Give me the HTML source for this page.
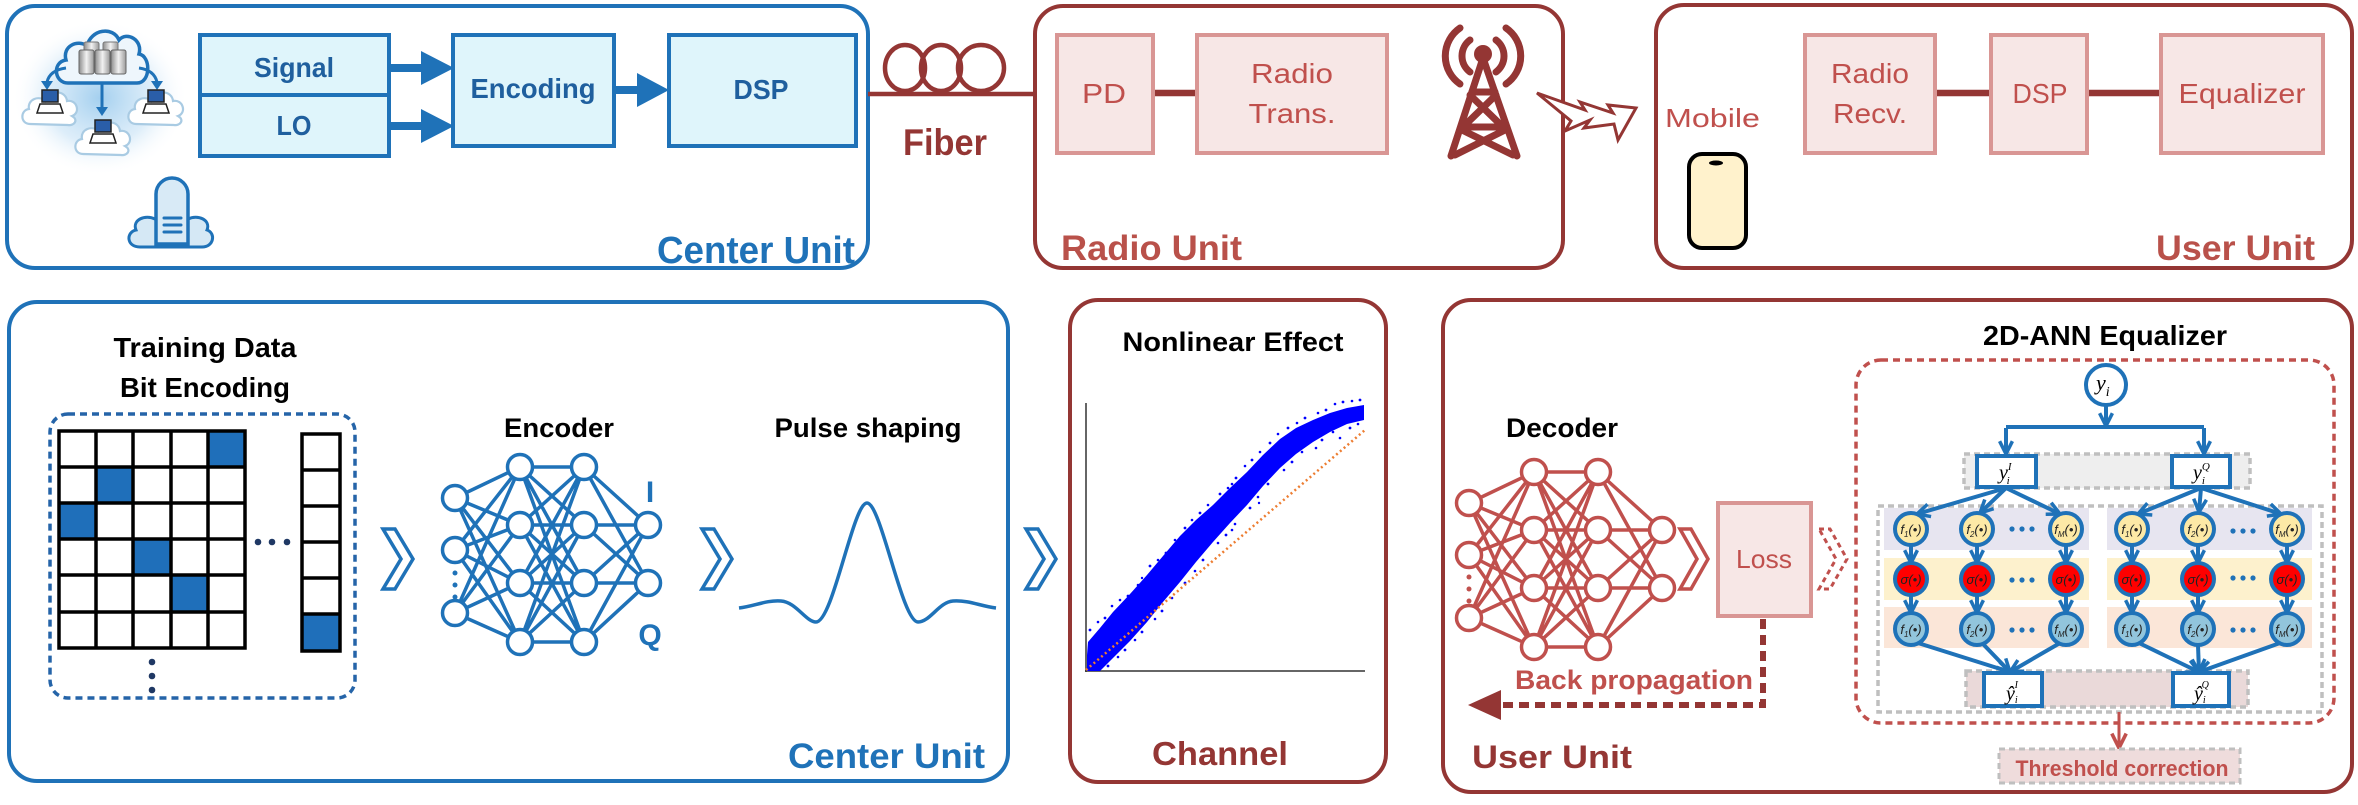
<!DOCTYPE html>
<html><head><meta charset="utf-8"><style>
html,body{margin:0;padding:0;background:#fff;}
svg{display:block;}
text{font-family:"Liberation Sans",Arial,sans-serif;}
.b{font-weight:bold;}
.sf{font-family:"Liberation Serif","Times New Roman",serif;font-style:italic;}
</style></head><body>
<svg width="2358" height="805" viewBox="0 0 2358 805" xmlns="http://www.w3.org/2000/svg">
<defs>
<radialGradient id="glow" cx="50%" cy="50%" r="50%">
<stop offset="0" stop-color="#9fcdee" stop-opacity="0.95"/>
<stop offset="0.6" stop-color="#cfe6f7" stop-opacity="0.7"/>
<stop offset="1" stop-color="#ffffff" stop-opacity="0"/>
</radialGradient>
<linearGradient id="gr" x1="0" y1="0" x2="1" y2="0">
<stop offset="0" stop-color="#8d8d8d"/><stop offset="0.5" stop-color="#f2f2f2"/><stop offset="1" stop-color="#9a9a9a"/>
</linearGradient>
<marker id="vb" viewBox="0 0 10 10" refX="9" refY="5" markerWidth="16" markerHeight="16" markerUnits="userSpaceOnUse" orient="auto">
<path d="M1,1 L9,5 L1,9" fill="none" stroke="#1f72b8" stroke-width="2.2"/></marker>
<marker id="vr" viewBox="0 0 10 10" refX="9" refY="5" markerWidth="18" markerHeight="18" markerUnits="userSpaceOnUse" orient="auto">
<path d="M1,1 L9,5 L1,9" fill="none" stroke="#c0504d" stroke-width="2"/></marker>
<g id="net">
<path fill="none" stroke-width="3.5" d="M455 498L520 467M455 498L520 525M455 498L520 583M455 498L520 642M455 550L520 467M455 550L520 525M455 550L520 583M455 550L520 642M455 613L520 467M455 613L520 525M455 613L520 583M455 613L520 642
M520 467L584 467M520 467L584 525M520 467L584 583M520 467L584 642M520 525L584 467M520 525L584 525M520 525L584 583M520 525L584 642M520 583L584 467M520 583L584 525M520 583L584 583M520 583L584 642M520 642L584 467M520 642L584 525M520 642L584 583M520 642L584 642
M584 467L648 525M584 467L648 583M584 525L648 525M584 525L648 583M584 583L648 525M584 583L648 583M584 642L648 525M584 642L648 583"/>
<g fill="#fff" stroke-width="3.5">
<circle cx="455" cy="498" r="12.5"/><circle cx="455" cy="550" r="12.5"/><circle cx="455" cy="613" r="12.5"/>
<circle cx="520" cy="467" r="12.5"/><circle cx="520" cy="525" r="12.5"/><circle cx="520" cy="583" r="12.5"/><circle cx="520" cy="642" r="12.5"/>
<circle cx="584" cy="467" r="12.5"/><circle cx="584" cy="525" r="12.5"/><circle cx="584" cy="583" r="12.5"/><circle cx="584" cy="642" r="12.5"/>
<circle cx="648" cy="525" r="12.5"/><circle cx="648" cy="583" r="12.5"/>
</g>
</g>
</defs>

<!-- ================= TOP ROW ================= -->
<rect x="7" y="6" width="861" height="262" rx="28" fill="#fff" stroke="#1f72b8" stroke-width="4"/>
<rect x="1035" y="6" width="528" height="262" rx="28" fill="#fff" stroke="#943634" stroke-width="4"/>
<rect x="1656" y="5" width="696" height="263" rx="28" fill="#fff" stroke="#943634" stroke-width="4"/>

<!-- cloud icon -->
<ellipse cx="100" cy="98" rx="88" ry="78" fill="url(#glow)"/>
<path d="M68,83 C54,83 52,62 66,60 C62,46 78,39 87,46 C91,29 113,26 119,40 C127,31 143,40 139,54 C151,56 151,83 137,83 Z" fill="#eef6fc" stroke="#1f72b8" stroke-width="3.5"/>
<rect x="84" y="42" width="15" height="10" rx="2" fill="url(#gr)" stroke="#777" stroke-width="1"/>
<rect x="103" y="42" width="15" height="10" rx="2" fill="url(#gr)" stroke="#777" stroke-width="1"/>
<rect x="79" y="50" width="15" height="24" rx="2" fill="url(#gr)" stroke="#666" stroke-width="1"/>
<rect x="95" y="50" width="15" height="24" rx="2" fill="url(#gr)" stroke="#666" stroke-width="1"/>
<rect x="111" y="50" width="15" height="24" rx="2" fill="url(#gr)" stroke="#666" stroke-width="1"/>
<g fill="none" stroke="#1f72b8" stroke-width="3">
<path d="M66,68 Q50,70 47,82"/><path d="M102,84 L102,108"/><path d="M139,68 Q154,70 157,82"/>
</g>
<g fill="#1f72b8">
<polygon points="41,81 53,81 47,90"/><polygon points="96,107 108,107 102,116"/><polygon points="151,81 163,81 157,90"/>
</g>
<g fill="#fff" stroke="#a9cbe3" stroke-width="2.2">
<path d="M30,124 C20,124 20,110 29,109 C27,99 40,95 45,101 C49,89 66,90 67,101 C77,99 81,113 72,116 C79,120 74,126 68,125 Z"/>
<path d="M83,154 C73,154 73,140 82,139 C80,129 93,125 98,131 C102,119 119,120 120,131 C130,129 134,143 125,146 C132,150 127,156 121,155 Z"/>
<path d="M136,124 C126,124 126,110 135,109 C133,99 146,95 151,101 C155,89 172,90 173,101 C183,99 187,113 178,116 C185,120 180,126 174,125 Z"/>
</g>
<g stroke="#222" stroke-width="1.5">
<rect x="42" y="90" width="16" height="12" fill="#2a5ea8"/><polygon points="40,104 60,104 63,113 37,113" fill="#fff"/>
<rect x="95" y="120" width="16" height="12" fill="#2a5ea8"/><polygon points="93,134 113,134 116,143 90,143" fill="#fff"/>
<rect x="148" y="90" width="16" height="12" fill="#2a5ea8"/><polygon points="146,104 166,104 169,113 143,113" fill="#fff"/>
</g>

<!-- bottom-left icon -->
<path d="M140,247 C126,247 126,232 136,230 C132,220 145,214 155,219 L188,219 C198,214 211,220 207,230 C216,233 214,247 202,247 Z" fill="#d5e8f5" stroke="#1f72b8" stroke-width="3"/>
<path d="M156,244 L156,194 A16,16 0 0 1 188,194 L188,244 Z" fill="#d8eaf6" stroke="#1f72b8" stroke-width="3.5"/>
<g stroke="#1f72b8" stroke-width="3" stroke-linecap="round"><line x1="164" y1="218" x2="181" y2="218"/><line x1="164" y1="225" x2="181" y2="225"/><line x1="164" y1="232" x2="181" y2="232"/></g>

<!-- signal / LO / encoding / DSP -->
<g fill="#dff5fb" stroke="#1f72b8" stroke-width="4">
<rect x="200" y="35" width="189" height="60"/>
<rect x="200" y="95" width="189" height="61"/>
<rect x="453" y="35" width="161" height="111"/>
<rect x="669" y="35" width="187" height="111"/>
</g>
<g fill="#1f72b8">
<rect x="389" y="64" width="34" height="8"/><polygon points="421,51 454,68 421,85"/>
<rect x="389" y="122" width="34" height="8"/><polygon points="421,109 454,126 421,143"/>
<rect x="614" y="86" width="26" height="8"/><polygon points="637,73 669,90 637,107"/>
</g>
<g fill="#1f5f9e" class="b" font-size="28" text-anchor="middle">
<text x="294" y="77" textLength="80" lengthAdjust="spacingAndGlyphs">Signal</text>
<text x="294" y="135" textLength="35" lengthAdjust="spacingAndGlyphs">LO</text>
<text x="533" y="98" textLength="125" lengthAdjust="spacingAndGlyphs">Encoding</text>
<text x="761" y="99" textLength="55" lengthAdjust="spacingAndGlyphs">DSP</text>
</g>
<text x="657" y="263" class="b" font-size="38" fill="#1f72b8" textLength="198" lengthAdjust="spacingAndGlyphs">Center Unit</text>

<!-- fiber -->
<line x1="868" y1="94" x2="1035" y2="94" stroke="#943634" stroke-width="4.5"/>
<g fill="none" stroke="#943634" stroke-width="4.5">
<ellipse cx="905" cy="68" rx="20" ry="23"/><ellipse cx="941" cy="68" rx="20" ry="23"/><ellipse cx="981" cy="68" rx="23" ry="23"/>
</g>
<text x="945" y="155" class="b" font-size="37" fill="#943634" text-anchor="middle" textLength="84" lengthAdjust="spacingAndGlyphs">Fiber</text>

<!-- radio unit -->
<g fill="#f7e7e6" stroke="#d99694" stroke-width="4">
<rect x="1057" y="35" width="96" height="118"/>
<rect x="1197" y="35" width="190" height="118"/>
<rect x="1805" y="35" width="130" height="118"/>
<rect x="1991" y="35" width="96" height="118"/>
<rect x="2161" y="35" width="162" height="118"/>
</g>
<g stroke="#943634" stroke-width="6.5">
<line x1="1155" y1="93" x2="1195" y2="93"/>
<line x1="1937" y1="93" x2="1989" y2="93"/>
<line x1="2089" y1="93" x2="2159" y2="93"/>
</g>
<g fill="#c0504d" font-size="28" text-anchor="middle">
<text x="1104" y="103" textLength="44" lengthAdjust="spacingAndGlyphs">PD</text>
<text x="1292" y="83" textLength="82" lengthAdjust="spacingAndGlyphs">Radio</text>
<text x="1292" y="123" textLength="87" lengthAdjust="spacingAndGlyphs">Trans.</text>
<text x="1870" y="83" textLength="78" lengthAdjust="spacingAndGlyphs">Radio</text>
<text x="1870" y="123" textLength="74" lengthAdjust="spacingAndGlyphs">Recv.</text>
<text x="2040" y="103" textLength="55" lengthAdjust="spacingAndGlyphs">DSP</text>
<text x="2242" y="103" textLength="127" lengthAdjust="spacingAndGlyphs">Equalizer</text>
</g>
<text x="1665" y="127" font-size="26" fill="#c0504d" textLength="95" lengthAdjust="spacingAndGlyphs">Mobile</text>
<text x="1061" y="260" class="b" font-size="35" fill="#b9514a" textLength="181" lengthAdjust="spacingAndGlyphs">Radio Unit</text>
<text x="2156" y="260" class="b" font-size="35" fill="#b9514a" textLength="159" lengthAdjust="spacingAndGlyphs">User Unit</text>

<!-- tower -->
<g stroke="#943634" stroke-width="7" stroke-linecap="round" fill="none">
<line x1="1483" y1="58" x2="1451" y2="156"/><line x1="1483" y1="58" x2="1517" y2="156"/>
<line x1="1472" y1="92" x2="1495" y2="92"/>
<line x1="1470" y1="95" x2="1502" y2="126"/><line x1="1496" y1="95" x2="1464" y2="126"/>
<line x1="1463" y1="127" x2="1505" y2="127"/>
<line x1="1462" y1="130" x2="1513" y2="155"/><line x1="1505" y1="130" x2="1455" y2="155"/>
<path d="M1470,40 A20,20 0 0 0 1470,72"/><path d="M1496,40 A20,20 0 0 1 1496,72"/>
<path d="M1460,28 A34,34 0 0 0 1460,84"/><path d="M1506,28 A34,34 0 0 1 1506,84"/>
</g>
<circle cx="1483" cy="54" r="9" fill="#943634"/>
<polygon points="1537,93 1585,110 1580,102 1613,113 1608,105 1636,108 1618,140 1614,124 1584,128 1590,120 1565,131 1571,121" fill="#fff" stroke="#943634" stroke-width="3" stroke-linejoin="miter"/>

<!-- phone -->
<rect x="1689" y="154" width="57" height="94" rx="13" fill="#fff2cc" stroke="#000" stroke-width="4"/>
<ellipse cx="1716" cy="163" rx="7" ry="2.5" fill="#000"/>

<!-- ================= BOTTOM ROW ================= -->
<rect x="9" y="302" width="999" height="479" rx="28" fill="#fff" stroke="#1f72b8" stroke-width="4"/>
<rect x="1070" y="300" width="316" height="482" rx="28" fill="#fff" stroke="#943634" stroke-width="4"/>
<rect x="1443" y="300" width="909" height="492" rx="28" fill="#fff" stroke="#943634" stroke-width="4"/>

<!-- training data -->
<g fill="#000" class="b" font-size="28" text-anchor="middle">
<text x="205" y="357" textLength="183" lengthAdjust="spacingAndGlyphs">Training Data</text>
<text x="205" y="397" textLength="170" lengthAdjust="spacingAndGlyphs">Bit Encoding</text>
<text x="559" y="437" font-size="27" textLength="110" lengthAdjust="spacingAndGlyphs">Encoder</text>
<text x="868" y="437" font-size="27" textLength="187" lengthAdjust="spacingAndGlyphs">Pulse shaping</text>
<text x="1233" y="351" font-size="27" textLength="221" lengthAdjust="spacingAndGlyphs">Nonlinear Effect</text>
<text x="1562" y="437" font-size="27" textLength="112" lengthAdjust="spacingAndGlyphs">Decoder</text>
<text x="2105" y="345" font-size="28" textLength="244" lengthAdjust="spacingAndGlyphs">2D-ANN Equalizer</text>
</g>
<rect x="50" y="414" width="305" height="284" rx="18" fill="none" stroke="#2564a8" stroke-width="3.5" stroke-dasharray="7 5"/>
<g fill="#1f6fba">
<rect x="208" y="430" width="37" height="36"/>
<rect x="96" y="466" width="37" height="36"/>
<rect x="58" y="503" width="38" height="36"/>
<rect x="133" y="539" width="38" height="36"/>
<rect x="171" y="575" width="37" height="37"/>
<rect x="301" y="614" width="39" height="37"/>
</g>
<g stroke="#000" stroke-width="3.5" fill="none">
<rect x="59" y="431" width="186" height="217"/>
<path d="M96,431V648M133,431V648M171,431V648M208,431V648M59,467H245M59,503H245M59,539H245M59,575H245M59,612H245"/>
<rect x="302" y="434" width="38" height="217"/>
<path d="M302,470H340M302,506H340M302,542H340M302,578H340M302,614H340"/>
</g>
<g fill="#1f3864">
<circle cx="258" cy="542" r="3.3"/><circle cx="272" cy="542" r="3.3"/><circle cx="287" cy="542" r="3.3"/>
<circle cx="152" cy="662" r="3.3"/><circle cx="152" cy="676" r="3.3"/><circle cx="152" cy="690" r="3.3"/>
</g>

<!-- chevrons -->
<g fill="#fff" stroke="#1f72b8" stroke-width="3.5" stroke-linejoin="miter">
<polygon points="383,529 395,529 413,559 395,589 383,589 401,559"/>
<polygon points="702,529 714,529 732,559 714,589 702,589 720,559"/>
<polygon points="1026,529 1038,529 1056,559 1038,589 1026,589 1044,559"/>
</g>
<polygon points="1680,529 1691,529 1708,559 1691,589 1680,589 1697,559" fill="#fff" stroke="#c0504d" stroke-width="3.5"/>
<polygon points="1819,529 1830,529 1847,559 1830,589 1819,589 1836,559" fill="#fff" stroke="#c0504d" stroke-width="3" stroke-dasharray="5 4"/>

<!-- encoder network -->
<use href="#net" stroke="#1f72b8"/>
<g fill="#1f72b8"><circle cx="455" cy="573" r="2.5"/><circle cx="455" cy="585" r="2.5"/><circle cx="455" cy="597" r="2.5"/></g>
<text x="650" y="502" class="b" font-size="30" fill="#1f72b8" text-anchor="middle">I</text>
<text x="650" y="645" class="b" font-size="30" fill="#1f72b8" text-anchor="middle">Q</text>

<!-- pulse -->
<path d="M739,608 C755,606 766,600 781,601 C796,602 806,622 816,622 C833,622 853,503 867,503 C881,503 902,622 918,622 C930,622 939,602 953,601 C969,600 980,606 996,608" fill="none" stroke="#1f72b8" stroke-width="3.5"/>
<text x="788" y="768" class="b" font-size="35" fill="#1f72b8" textLength="197" lengthAdjust="spacingAndGlyphs">Center Unit</text>

<!-- scatter plot -->
<line x1="1086" y1="403" x2="1086" y2="672" stroke="#333" stroke-width="1.5"/>
<line x1="1085" y1="671" x2="1365" y2="671" stroke="#333" stroke-width="1.5"/>
<polygon fill="#0000ff" points="1087,655 1088,642 1100,628 1113,612 1130,594 1147,575 1163,556 1180,536 1196,520 1213,505 1230,488 1247,472 1263,455 1280,439 1296,428 1313,420 1330,413 1347,408 1364,405 1364,420 1347,424 1330,432 1313,442 1296,454 1280,468 1263,486 1247,505 1230,523 1213,542 1196,562 1180,582 1163,602 1147,622 1130,641 1113,658 1100,671 1087,671"/>
<g fill="#0000ff">
<circle cx="1090" cy="630" r="1.4"/><circle cx="1098" cy="622" r="1.3"/><circle cx="1105" cy="618" r="1.4"/><circle cx="1120" cy="600" r="1.3"/><circle cx="1128" cy="596" r="1.4"/><circle cx="1138" cy="585" r="1.3"/><circle cx="1150" cy="566" r="1.4"/><circle cx="1158" cy="560" r="1.3"/><circle cx="1166" cy="553" r="1.4"/><circle cx="1175" cy="540" r="1.3"/><circle cx="1185" cy="528" r="1.4"/><circle cx="1192" cy="520" r="1.3"/><circle cx="1200" cy="513" r="1.4"/><circle cx="1208" cy="505" r="1.3"/><circle cx="1220" cy="494" r="1.4"/><circle cx="1228" cy="488" r="1.3"/><circle cx="1236" cy="478" r="1.4"/><circle cx="1245" cy="466" r="1.3"/><circle cx="1252" cy="460" r="1.4"/><circle cx="1260" cy="452" r="1.3"/><circle cx="1270" cy="443" r="1.4"/><circle cx="1278" cy="434" r="1.3"/><circle cx="1288" cy="428" r="1.4"/><circle cx="1297" cy="423" r="1.3"/><circle cx="1305" cy="418" r="1.4"/><circle cx="1318" cy="413" r="1.3"/><circle cx="1326" cy="410" r="1.4"/><circle cx="1335" cy="404" r="1.3"/><circle cx="1343" cy="402" r="1.4"/><circle cx="1352" cy="401" r="1.3"/><circle cx="1360" cy="400" r="1.4"/><circle cx="1232" cy="484" r="1.3"/><circle cx="1160" cy="566" r="1.3"/><circle cx="1112" cy="606" r="1.3"/><circle cx="1142" cy="578" r="1.2"/>
<circle cx="1108" cy="666" r="1.4"/><circle cx="1118" cy="657" r="1.3"/><circle cx="1125" cy="650" r="1.4"/><circle cx="1135" cy="640" r="1.3"/><circle cx="1142" cy="632" r="1.4"/><circle cx="1155" cy="619" r="1.3"/><circle cx="1162" cy="611" r="1.4"/><circle cx="1172" cy="598" r="1.3"/><circle cx="1185" cy="583" r="1.4"/><circle cx="1195" cy="571" r="1.3"/><circle cx="1203" cy="560" r="1.4"/><circle cx="1218" cy="543" r="1.3"/><circle cx="1226" cy="535" r="1.4"/><circle cx="1235" cy="524" r="1.3"/><circle cx="1250" cy="508" r="1.4"/><circle cx="1258" cy="497" r="1.3"/><circle cx="1268" cy="484" r="1.4"/><circle cx="1284" cy="470" r="1.3"/><circle cx="1292" cy="462" r="1.4"/><circle cx="1302" cy="452" r="1.3"/><circle cx="1322" cy="440" r="1.4"/><circle cx="1333" cy="432" r="1.3"/><circle cx="1340" cy="438" r="1.3"/><circle cx="1350" cy="428" r="1.4"/><circle cx="1316" cy="448" r="1.3"/><circle cx="1232" cy="530" r="1.3"/><circle cx="1259" cy="503" r="1.2"/><circle cx="1358" cy="424" r="1.3"/>
</g>
<line x1="1086" y1="670" x2="1365" y2="430" stroke="#ed7d31" stroke-width="2.5" stroke-dasharray="2 3"/>
<text x="1220" y="765" class="b" font-size="33" fill="#943634" text-anchor="middle" textLength="136" lengthAdjust="spacingAndGlyphs">Channel</text>

<!-- decoder -->
<use href="#net" stroke="#c0504d" transform="translate(1014,5)"/>
<g fill="#c0504d"><circle cx="1469" cy="577" r="2.5"/><circle cx="1469" cy="589" r="2.5"/><circle cx="1469" cy="601" r="2.5"/></g>
<rect x="1718" y="503" width="93" height="113" fill="#f7e7e6" stroke="#d99694" stroke-width="4"/>
<text x="1764" y="568" font-size="26" fill="#c0504d" text-anchor="middle" textLength="56" lengthAdjust="spacingAndGlyphs">Loss</text>
<path d="M1763,619 V705 H1500" fill="none" stroke="#943634" stroke-width="6" stroke-dasharray="10 6"/>
<polygon points="1468,705 1501,690 1501,720" fill="#943634"/>
<text x="1515" y="689" class="b" font-size="27" fill="#c0504d" textLength="238" lengthAdjust="spacingAndGlyphs">Back propagation</text>
<text x="1472" y="768" class="b" font-size="32" fill="#943634" textLength="160" lengthAdjust="spacingAndGlyphs">User Unit</text>

<!-- 2D-ANN equalizer -->
<rect x="1856" y="360" width="478" height="363" rx="25" fill="none" stroke="#c0504d" stroke-width="3.5" stroke-dasharray="7 5"/>
<rect x="1964" y="454" width="286" height="34" fill="#eeeeee" stroke="#bfbfbf" stroke-width="3.5" stroke-dasharray="6 4"/>
<rect x="1878" y="506" width="444" height="206" fill="none" stroke="#bfbfbf" stroke-width="3.5" stroke-dasharray="6 4"/>
<g>
<rect x="1884" y="508" width="205" height="42" fill="#e7e5f0"/><rect x="2107" y="508" width="205" height="42" fill="#e7e5f0"/>
<rect x="1884" y="558" width="205" height="42" fill="#fdf1cd"/><rect x="2107" y="558" width="205" height="42" fill="#fdf1cd"/>
<rect x="1884" y="607" width="205" height="41" fill="#fbe6d8"/><rect x="2107" y="607" width="205" height="41" fill="#fbe6d8"/>
</g>
<rect x="1966" y="671" width="282" height="36" fill="#ead9d9" stroke="#bfbfbf" stroke-width="3.5" stroke-dasharray="6 4"/>

<g fill="none" stroke="#1f72b8" stroke-width="4" marker-end="url(#vb)">
<line x1="2106" y1="405" x2="2106" y2="426"/>
<line x1="2006" y1="428" x2="2006" y2="454"/>
<line x1="2204" y1="428" x2="2204" y2="454"/>
<line x1="2006" y1="488" x2="1917" y2="514"/><line x1="2006" y1="488" x2="1980" y2="513"/><line x1="2006" y1="488" x2="2060" y2="514"/>
<line x1="2201" y1="488" x2="2138" y2="514"/><line x1="2201" y1="488" x2="2199" y2="512"/><line x1="2201" y1="488" x2="2281" y2="514"/>
<line x1="1911" y1="545" x2="1911" y2="563"/><line x1="1977" y1="545" x2="1977" y2="563"/><line x1="2066" y1="545" x2="2066" y2="563"/>
<line x1="2132" y1="545" x2="2132" y2="563"/><line x1="2198" y1="545" x2="2198" y2="563"/><line x1="2287" y1="545" x2="2287" y2="563"/>
<line x1="1911" y1="595" x2="1911" y2="613"/><line x1="1977" y1="595" x2="1977" y2="613"/><line x1="2066" y1="595" x2="2066" y2="613"/>
<line x1="2132" y1="595" x2="2132" y2="613"/><line x1="2198" y1="595" x2="2198" y2="613"/><line x1="2287" y1="595" x2="2287" y2="613"/>
<line x1="1918" y1="643" x2="2010" y2="672"/><line x1="1983" y1="644" x2="2010" y2="672"/><line x1="2060" y1="643" x2="2010" y2="672"/>
<line x1="2139" y1="643" x2="2199" y2="672"/><line x1="2198" y1="645" x2="2199" y2="672"/><line x1="2280" y1="643" x2="2199" y2="672"/>
</g>
<line x1="2006" y1="427" x2="2204" y2="427" stroke="#1f72b8" stroke-width="4"/>
<circle cx="2106" cy="385" r="20" fill="#fff" stroke="#1f72b8" stroke-width="4"/>
<text x="2096" y="390" class="sf" font-size="22" fill="#000">y<tspan font-size="14" dy="6">i</tspan></text>
<rect x="1977" y="456" width="59" height="31" fill="#fff" stroke="#1f72b8" stroke-width="4"/>
<rect x="2172" y="456" width="58" height="31" fill="#fff" stroke="#1f72b8" stroke-width="4"/>
<text x="1999" y="479" class="sf" font-size="20" fill="#000">y<tspan font-size="11" dy="-9">I</tspan><tspan font-size="11" dx="-5" dy="14">i</tspan></text>
<text x="2193" y="479" class="sf" font-size="20" fill="#000">y<tspan font-size="11" dy="-9">Q</tspan><tspan font-size="11" dx="-8" dy="14">i</tspan></text>

<g stroke="#1f72b8" stroke-width="4">
<g fill="#fde9a6">
<circle cx="1911" cy="529" r="16"/><circle cx="1977" cy="529" r="16"/><circle cx="2066" cy="529" r="16"/>
<circle cx="2132" cy="529" r="16"/><circle cx="2198" cy="529" r="16"/><circle cx="2287" cy="529" r="16"/>
</g>
<g fill="#ff0000">
<circle cx="1911" cy="579" r="16"/><circle cx="1977" cy="579" r="16"/><circle cx="2066" cy="579" r="16"/>
<circle cx="2132" cy="579" r="16"/><circle cx="2198" cy="579" r="16"/><circle cx="2287" cy="579" r="16"/>
</g>
<g fill="#92c5dc">
<circle cx="1911" cy="629" r="16"/><circle cx="1977" cy="629" r="16"/><circle cx="2066" cy="629" r="16"/>
<circle cx="2132" cy="629" r="16"/><circle cx="2198" cy="629" r="16"/><circle cx="2287" cy="629" r="16"/>
</g>
</g>
<g class="sf" font-size="13" fill="#222" text-anchor="middle">
<text x="1911" y="534">f<tspan font-size="8" dy="3">1</tspan><tspan dy="-3">(•)</tspan></text>
<text x="1977" y="534">f<tspan font-size="8" dy="3">2</tspan><tspan dy="-3">(•)</tspan></text>
<text x="2066" y="534">f<tspan font-size="8" dy="3">M</tspan><tspan dy="-3">(•)</tspan></text>
<text x="2132" y="534">f<tspan font-size="8" dy="3">1</tspan><tspan dy="-3">(•)</tspan></text>
<text x="2198" y="534">f<tspan font-size="8" dy="3">2</tspan><tspan dy="-3">(•)</tspan></text>
<text x="2287" y="534">f<tspan font-size="8" dy="3">M</tspan><tspan dy="-3">(•)</tspan></text>
<text x="1911" y="584">σ(•)</text><text x="1977" y="584">σ(•)</text><text x="2066" y="584">σ(•)</text>
<text x="2132" y="584">σ(•)</text><text x="2198" y="584">σ(•)</text><text x="2287" y="584">σ(•)</text>
<text x="1911" y="634">f<tspan font-size="8" dy="3">1</tspan><tspan dy="-3">(•)</tspan></text>
<text x="1977" y="634">f<tspan font-size="8" dy="3">2</tspan><tspan dy="-3">(•)</tspan></text>
<text x="2066" y="634">f<tspan font-size="8" dy="3">M</tspan><tspan dy="-3">(•)</tspan></text>
<text x="2132" y="634">f<tspan font-size="8" dy="3">1</tspan><tspan dy="-3">(•)</tspan></text>
<text x="2198" y="634">f<tspan font-size="8" dy="3">2</tspan><tspan dy="-3">(•)</tspan></text>
<text x="2287" y="634">f<tspan font-size="8" dy="3">M</tspan><tspan dy="-3">(•)</tspan></text>
</g>
<g fill="#1f72b8">
<circle cx="2012" cy="529" r="2.6"/><circle cx="2022" cy="529" r="2.6"/><circle cx="2032" cy="529" r="2.6"/>
<circle cx="2012" cy="580" r="2.6"/><circle cx="2022" cy="580" r="2.6"/><circle cx="2032" cy="580" r="2.6"/>
<circle cx="2012" cy="630" r="2.6"/><circle cx="2022" cy="630" r="2.6"/><circle cx="2032" cy="630" r="2.6"/>
<circle cx="2233" cy="531" r="2.6"/><circle cx="2243" cy="531" r="2.6"/><circle cx="2253" cy="531" r="2.6"/>
<circle cx="2233" cy="578" r="2.6"/><circle cx="2243" cy="578" r="2.6"/><circle cx="2253" cy="578" r="2.6"/>
<circle cx="2233" cy="630" r="2.6"/><circle cx="2243" cy="630" r="2.6"/><circle cx="2253" cy="630" r="2.6"/>
</g>
<rect x="1984" y="673" width="58" height="33" fill="#fff" stroke="#1f72b8" stroke-width="4"/>
<rect x="2173" y="673" width="56" height="33" fill="#fff" stroke="#1f72b8" stroke-width="4"/>
<text x="2006" y="700" class="sf" font-size="20" fill="#000">ŷ<tspan font-size="10" dy="3">i</tspan><tspan font-size="10" dx="-3" dy="-15">I</tspan></text>
<text x="2194" y="700" class="sf" font-size="20" fill="#000">ŷ<tspan font-size="10" dy="3">i</tspan><tspan font-size="10" dx="-4" dy="-15">Q</tspan></text>

<line x1="2119" y1="712" x2="2119" y2="748" stroke="#c0504d" stroke-width="3" marker-end="url(#vr)"/>
<rect x="1999" y="749" width="241" height="34" fill="#efdcdc" stroke="#bfbfbf" stroke-width="3" stroke-dasharray="6 4"/>
<text x="2122" y="776" class="b" font-size="22" fill="#c0504d" text-anchor="middle" textLength="213" lengthAdjust="spacingAndGlyphs">Threshold correction</text>
</svg>
</body></html>
